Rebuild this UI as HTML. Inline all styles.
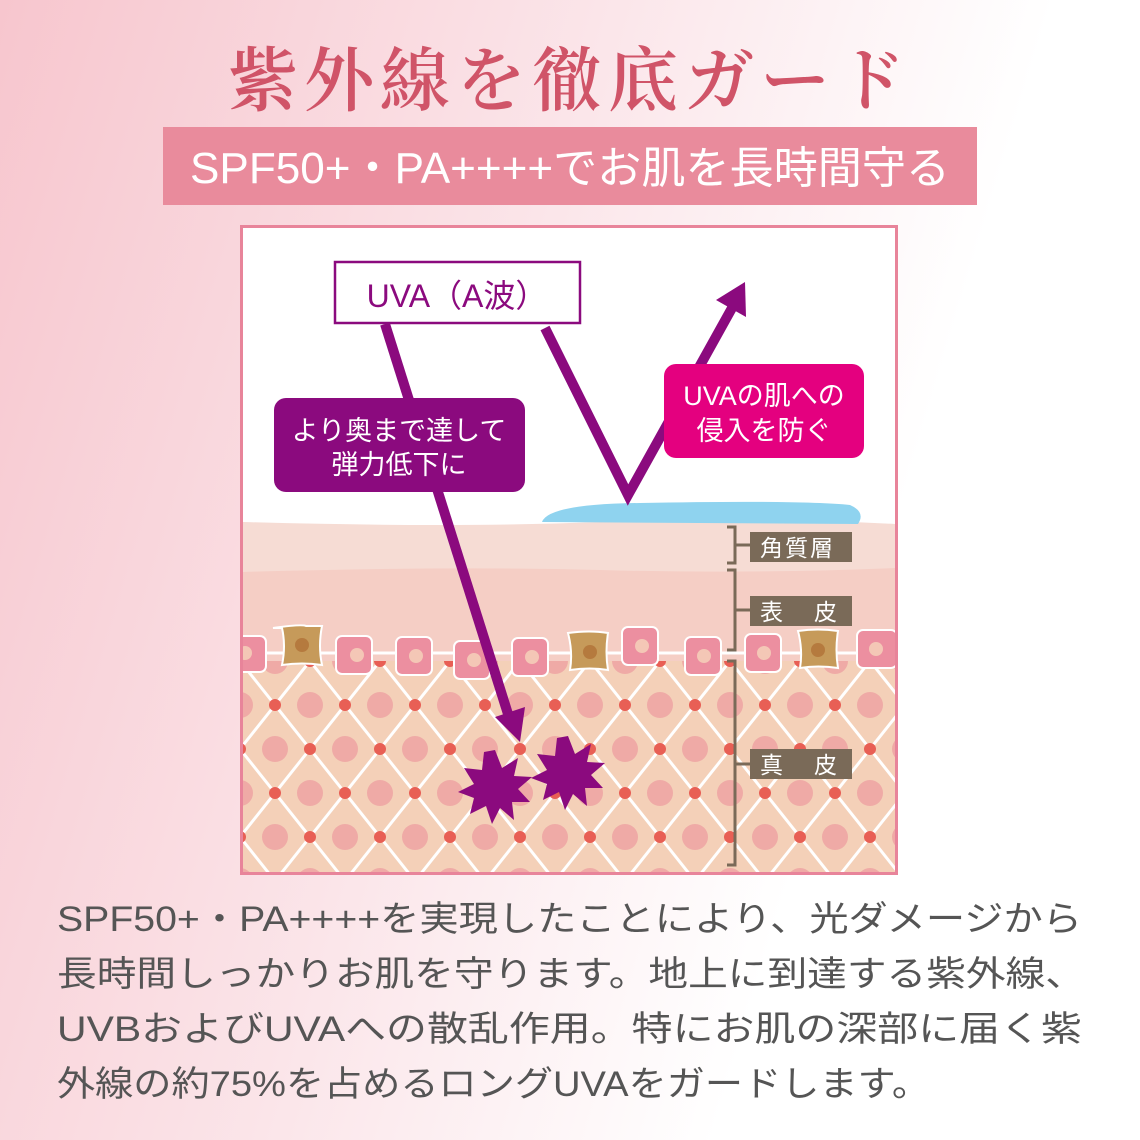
<!DOCTYPE html>
<html><head><meta charset="utf-8"><style>
html,body{margin:0;padding:0;width:1140px;height:1140px;overflow:hidden}
svg{display:block}
</style></head><body>
<svg width="1140" height="1140" viewBox="0 0 1140 1140" xmlns="http://www.w3.org/2000/svg" font-family="'Liberation Sans','Noto Sans CJK JP',sans-serif">
<defs>
<linearGradient id="bg" x1="0" y1="0" x2="1" y2="0.3">
<stop offset="0" stop-color="#f7c6ce"/><stop offset="0.5" stop-color="#fbe6ea"/><stop offset="0.85" stop-color="#ffffff"/>
</linearGradient>
<pattern id="lat" x="240" y="661" width="70" height="88" patternUnits="userSpaceOnUse">
<rect width="70" height="88" fill="#f4d0b8"/>
<path d="M0 0 L70 88 M70 0 L0 88 M-35 44 L0 88 M35 -44 L105 44 M105 44 L70 88 M-35 44 L35 -44" stroke="#fff" stroke-width="3" fill="none"/>
<circle cx="35" cy="0" r="13" fill="#efaaa6"/><circle cx="35" cy="88" r="13" fill="#efaaa6"/>
<circle cx="0" cy="44" r="13" fill="#efaaa6"/><circle cx="70" cy="44" r="13" fill="#efaaa6"/>
<circle cx="0" cy="0" r="6" fill="#e85f55"/><circle cx="70" cy="0" r="6" fill="#e85f55"/>
<circle cx="0" cy="88" r="6" fill="#e85f55"/><circle cx="70" cy="88" r="6" fill="#e85f55"/>
<circle cx="35" cy="44" r="6" fill="#e85f55"/>
</pattern>
<clipPath id="box"><rect x="243" y="228" width="652" height="644"/></clipPath>
</defs>
<rect width="1140" height="1140" fill="url(#bg)"/>

<text x="570" y="105" text-anchor="middle" font-family="'Noto Serif CJK SC','Liberation Serif',serif" font-weight="600" font-size="70" fill="#d05468" letter-spacing="6">紫外線を徹底ガード</text>
<rect x="163" y="127" width="814" height="78" fill="#e98b9c"/>
<text x="570" y="183" text-anchor="middle" font-size="44" fill="#fff" textLength="760" lengthAdjust="spacingAndGlyphs">SPF50+・PA++++でお肌を長時間守る</text>

<rect x="240" y="225" width="658" height="650" fill="#e8849a"/>
<g clip-path="url(#box)">
<rect x="243" y="228" width="652" height="644" fill="#fff"/>
<path d="M243 522 Q450 528 600 522 T895 524 V872 H243Z" fill="#f6dcd4"/>
<path d="M243 572 Q450 566 600 570 T895 568 V872 H243Z" fill="#f5cec5"/>
<rect x="243" y="661" width="652" height="211" fill="url(#lat)"/>
<line x1="243" y1="653" x2="895" y2="653" stroke="#fff" stroke-width="3"/>
<g stroke="#fff" stroke-width="2">
<rect x="232" y="636" width="34" height="36" rx="6" fill="#ec8fa0"/>
<rect x="336" y="636" width="36" height="38" rx="6" fill="#ec8fa0"/>
<rect x="396" y="637" width="36" height="38" rx="6" fill="#ec8fa0"/>
<rect x="454" y="641" width="36" height="38" rx="6" fill="#ec8fa0"/>
<rect x="512" y="638" width="36" height="38" rx="6" fill="#ec8fa0"/>
<rect x="622" y="627" width="36" height="38" rx="6" fill="#ec8fa0"/>
<rect x="685" y="637" width="36" height="38" rx="6" fill="#ec8fa0"/>
<rect x="745" y="634" width="36" height="38" rx="6" fill="#ec8fa0"/>
<rect x="857" y="630" width="40" height="38" rx="6" fill="#ec8fa0"/>
<path d="M273 628 Q302 624 306 626 Q322 626 322 626 Q318 646 322 665 Q302 662 282 665 Q286 646 282 628Z" fill="#c69a5a"/>
<path d="M568 633 Q590 630 608 633 Q605 652 608 670 Q590 667 570 670 Q573 652 568 633Z" fill="#c69a5a"/>
<path d="M798 631 Q818 628 838 631 Q835 650 838 668 Q818 665 800 668 Q803 650 798 631Z" fill="#c69a5a"/>
</g>
<g fill="#f4c7b6">
<circle cx="245" cy="653" r="7"/><circle cx="357" cy="655" r="7"/><circle cx="416" cy="656" r="7"/><circle cx="474" cy="660" r="7"/><circle cx="532" cy="657" r="7"/><circle cx="642" cy="646" r="7"/><circle cx="704" cy="656" r="7"/><circle cx="764" cy="653" r="7"/><circle cx="876" cy="649" r="7"/>
</g>
<g fill="#b57a3e"><circle cx="302" cy="645" r="7"/><circle cx="590" cy="652" r="7"/><circle cx="818" cy="650" r="7"/></g>
</g>

<path d="M542 522 Q548 504 640 503 Q800 500 850 505 Q866 512 858 524 Z" fill="#8fd3ef"/>

<g stroke="#7a6a58" stroke-width="3" fill="none">
<path d="M727 527 H735 V563 H727 M735 545 H750"/>
<path d="M727 570 H735 V650 H727 M735 610 H750"/>
<path d="M727 661 H735 V865 H727 M735 764 H750"/>
</g>
<g fill="#7a6a58"><rect x="750" y="532" width="102" height="30"/><rect x="750" y="596" width="102" height="30"/><rect x="750" y="749" width="102" height="30"/></g>
<g fill="#fff" font-size="23"><text x="760" y="556" letter-spacing="2">角質層</text><text x="760" y="620">表</text><text x="814" y="620">皮</text><text x="760" y="773">真</text><text x="814" y="773">皮</text></g>

<g stroke="#8b0a7e" stroke-width="10" fill="none" stroke-linecap="butt">
<line x1="385" y1="324" x2="508" y2="714"/>
<polyline points="545,328 628,495 732,308"/>
</g>
<polygon points="520,742 495,717 525,707" fill="#8b0a7e"/>
<polygon points="745,282 746,317 716,300" fill="#8b0a7e"/>
<rect x="335" y="262" width="245" height="61" fill="#fff" stroke="#8b0a7e" stroke-width="2.5"/>
<text x="457" y="307" text-anchor="middle" font-size="32" fill="#8b0a7e">UVA（A波）</text>
<rect x="274" y="398" width="251" height="94" rx="12" fill="#8b0a7e"/>
<text x="399" y="440" text-anchor="middle" font-size="27" fill="#fff">より奥まで達して</text>
<text x="399" y="474" text-anchor="middle" font-size="27" fill="#fff">弾力低下に</text>
<rect x="664" y="364" width="200" height="94" rx="12" fill="#e4007f"/>
<text x="764" y="405" text-anchor="middle" font-size="27" fill="#fff">UVAの肌への</text>
<text x="764" y="440" text-anchor="middle" font-size="27" fill="#fff">侵入を防ぐ</text>

<g fill="#8b0a7e">
<polygon points="495,750 502,768 518,758 514,776 532,777 518,789 530,802 512,802 514,820 500,808 492,824 486,806 470,814 474,798 458,792 474,784 464,768 482,770 484,752"/>
<polygon points="568,736 575,754 591,744 587,762 605,763 591,775 603,788 585,788 587,806 573,794 565,810 559,792 543,800 547,784 531,778 547,770 537,754 555,756 557,738"/>
</g>

<g font-size="35" fill="#555">
<text x="57" y="931" textLength="1025" lengthAdjust="spacingAndGlyphs">SPF50+・PA++++を実現したことにより、光ダメージから</text>
<text x="57" y="986" textLength="1028" lengthAdjust="spacingAndGlyphs">長時間しっかりお肌を守ります。地上に到達する紫外線、</text>
<text x="57" y="1041" textLength="1025" lengthAdjust="spacingAndGlyphs">UVBおよびUVAへの散乱作用。特にお肌の深部に届く紫</text>
<text x="57" y="1096" textLength="873" lengthAdjust="spacingAndGlyphs">外線の約75%を占めるロングUVAをガードします。</text>
</g>
</svg>
</body></html>
